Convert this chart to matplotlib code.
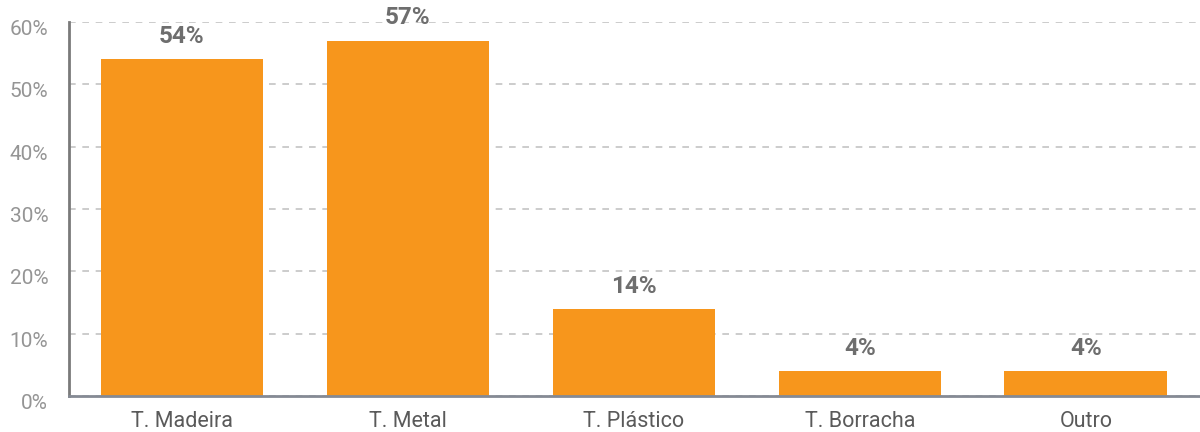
import matplotlib.pyplot as plt
from matplotlib.transforms import ScaledTranslation

categorias = ['T. Madeira', 'T. Metal', 'T. Plástico', 'T. Borracha', 'Outro']
valores = [54, 57, 14, 4, 4]
yticks = [0, 10, 20, 30, 40, 50, 60]

plt.rcParams['font.family'] = ['Roboto', 'DejaVu Sans']

fig = plt.figure(figsize=(12, 4.32), dpi=100)
ax = fig.add_axes([0.0575, 0.0833, 0.9415, 0.866])

x = range(len(categorias))
barras = ax.bar(x, valores, width=0.72, color='#F7961C', zorder=3)

for b, v in zip(barras, valores):
    ax.annotate(f'{v}%', (b.get_x() + b.get_width() / 2, v),
                xytext=(0, 8), textcoords='offset points',
                ha='center', va='bottom', fontsize=17.5, fontweight='bold',
                color='#6e6e6e')

ax.set_xlim(-0.5, 4.5)
ax.set_ylim(0, 60)
ax.set_yticks(yticks)
ax.set_yticklabels([f'{t}%' for t in yticks])
ax.set_xticks(list(x))
ax.set_xticklabels(categorias)

ax.tick_params(axis='y', length=0, pad=15, labelsize=15, labelcolor='#959595')
ax.tick_params(axis='x', length=0, pad=11, labelsize=15.5, labelcolor='#5a5a5a')

# rótulos do eixo y ligeiramente abaixo das linhas de grade
desloc = ScaledTranslation(0, -4 / 72, fig.dpi_scale_trans)
for lbl in ax.get_yticklabels():
    lbl.set_transform(lbl.get_transform() + desloc)

ax.yaxis.grid(True, linestyle=(0, (4, 4)), color='#c4c4c4', linewidth=1.2, zorder=0)
ax.xaxis.grid(False)

for s in ['top', 'right']:
    ax.spines[s].set_visible(False)
ax.spines['left'].set_color('#7a7a7a')
ax.spines['left'].set_linewidth(2)
ax.spines['bottom'].set_color('#858a94')
ax.spines['bottom'].set_linewidth(2)
ax.spines['bottom'].set_zorder(4)

fig.savefig('out.png', dpi=100)
